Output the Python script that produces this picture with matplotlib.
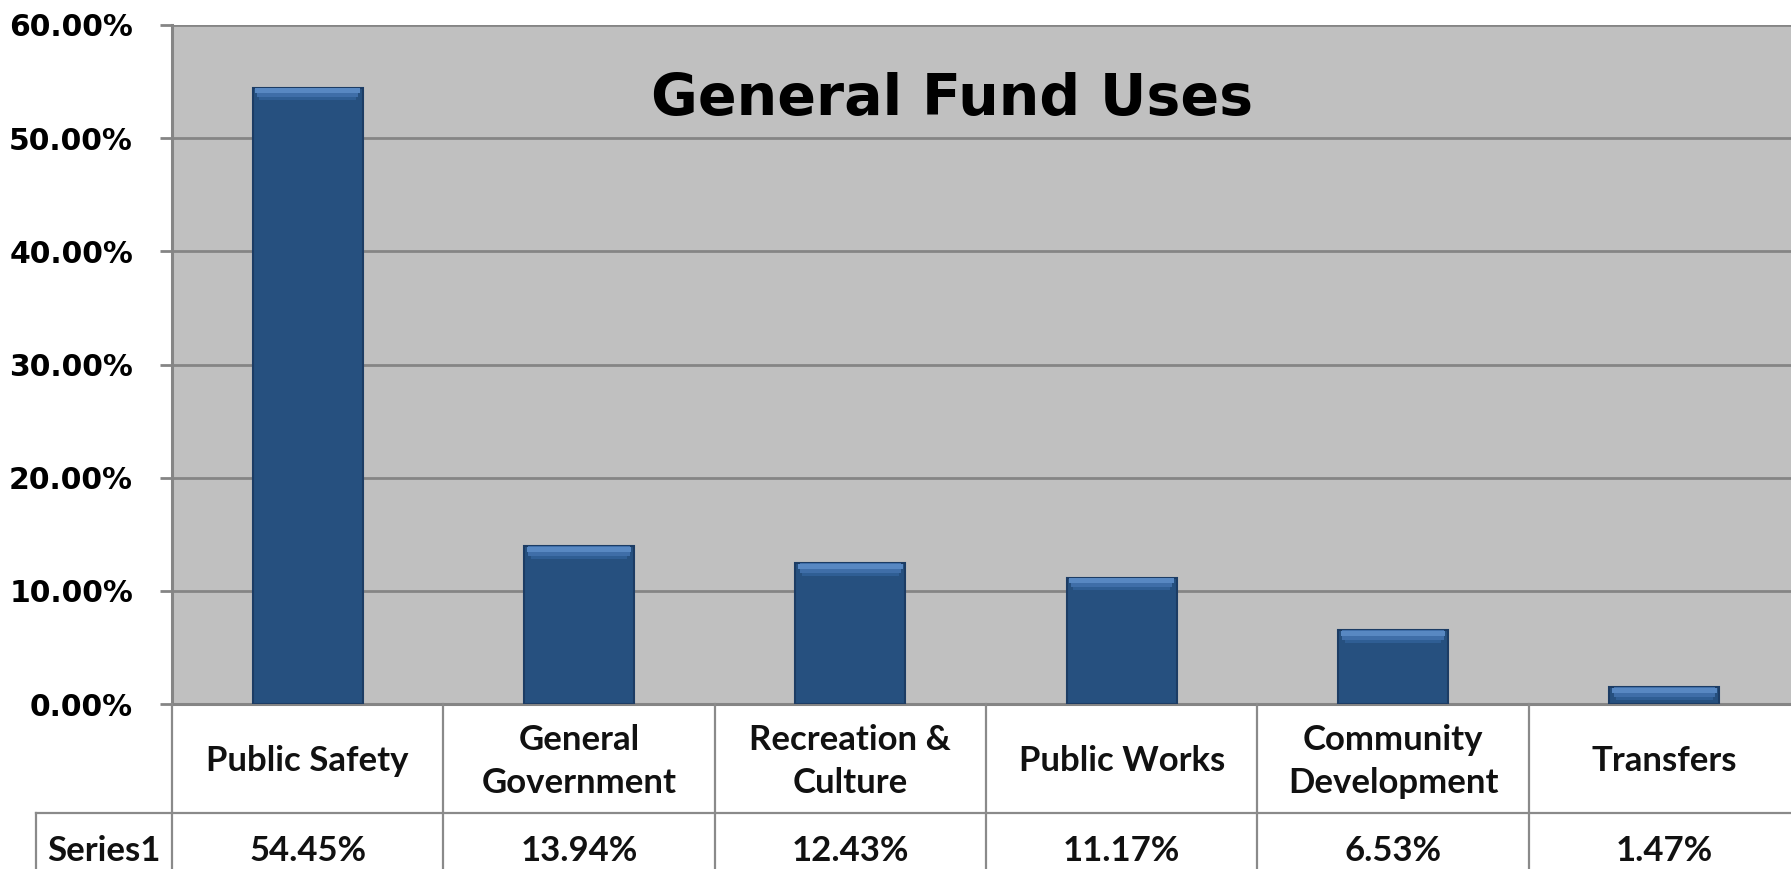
import matplotlib
matplotlib.use("Agg")
import matplotlib.pyplot as plt
import numpy as np

# data
categories = ["Public Safety", "General\nGovernment", "Recreation &\nCulture",
              "Public Works", "Community\nDevelopment", "Transfers"]
values = [54.45, 13.94, 12.43, 11.17, 6.53, 1.47]
value_labels = ["54.45%", "13.94%", "12.43%", "11.17%", "6.53%", "1.47%"]
series_name = "Series1"
yticks = [0, 10, 20, 30, 40, 50, 60]

W, H = 1791, 869
fig = plt.figure(figsize=(W / 100, H / 100), dpi=100)
fig.patch.set_facecolor("white")

# plot area (runs a little past the right edge, like the cropped original)
left_px, right_px, top_px, zero_px = 172, 1800, 25, 704
ax = fig.add_axes([left_px / W, 1 - zero_px / H, (right_px - left_px) / W, (zero_px - top_px) / H])
ax.set_facecolor("#c0c0c0")
x = np.arange(len(values))
ax.set_xlim(-0.5, len(values) - 0.5)
ax.set_ylim(0, 60)

grid_c = "#858585"
ax.set_yticks(yticks)
ax.set_yticklabels(["%.2f%%" % t for t in yticks])
ax.yaxis.grid(True, color=grid_c, linewidth=2)
ax.set_axisbelow(True)
ax.set_xticks([])
ax.tick_params(axis="y", length=9, width=2, color=grid_c, pad=19)
for lab in ax.get_yticklabels():
    lab.set_fontfamily("DejaVu Sans")
    lab.set_fontweight("bold")
    lab.set_fontsize(21.5)
for s in ["top", "right"]:
    ax.spines[s].set_visible(False)
ax.spines["left"].set_color(grid_c)
ax.spines["left"].set_linewidth(2.2)
ax.spines["bottom"].set_color(grid_c)
ax.spines["bottom"].set_linewidth(2.2)

# bars with a soft lighter bevel on top
bw = 0.405
vals = np.array(values)
ax.bar(x, vals, width=bw, color="#26507f", edgecolor="#1c3c64", linewidth=1.5, zorder=3)
ax.bar(x, np.minimum(0.3, vals), bottom=vals - np.minimum(1.1, vals),
       width=bw * 0.88, color="#2f5e94", linewidth=0, zorder=4)
ax.bar(x, np.minimum(0.85, vals), bottom=vals - np.minimum(0.85, vals),
       width=bw * 0.92, color="#3f6ea8", linewidth=0, zorder=4)
ax.bar(x, np.minimum(0.45, vals), bottom=vals - np.minimum(0.5, vals),
       width=bw * 0.95, color="#5888c2", linewidth=0, zorder=4)

# title
fig.text(952 / W, 1 - 115 / H, "General Fund Uses", ha="center", va="baseline",
         fontsize=41, fontweight="bold", family=["DejaVu Sans"])

# data table below the axis
row1, row2 = 109, 179
tax = fig.add_axes([left_px / W, 1 - (zero_px + row2) / H, (right_px - left_px) / W, row2 / H])
tax.set_xlim(-0.5, len(values) - 0.5)
tax.set_ylim(row2, 0)
tax.axis("off")
line_c = "#8a8a8a"
for i in range(len(values) + 1):
    tax.plot([i - 0.5, i - 0.5], [0, row2], color=line_c, lw=1.6, clip_on=False)
tax.plot([-1.0, len(values) - 0.5], [row1, row1], color=line_c, lw=1.6, clip_on=False)
tax.plot([-1.0, -1.0], [row1, row2], color=line_c, lw=1.6, clip_on=False)

tfont = dict(family=["Lato", "DejaVu Sans"], fontweight="bold", fontsize=25, color="#111111")
for i, (c, v) in enumerate(zip(categories, value_labels)):
    tax.text(i, row1 / 2 + 3, c, ha="center", va="center", linespacing=1.42, **tfont)
    tax.text(i, (row1 + row2) / 2 + 3, v, ha="center", va="center", **tfont)
tax.text(-0.75, (row1 + row2) / 2 + 3, series_name, ha="center", va="center", clip_on=False, **tfont)

fig.savefig("out.png", dpi=100)
